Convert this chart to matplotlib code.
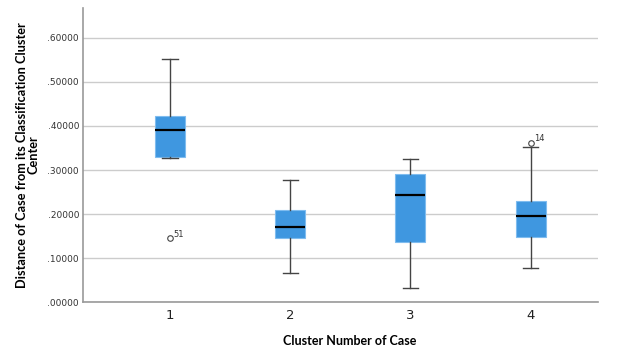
import matplotlib.pyplot as plt
from matplotlib.ticker import FuncFormatter

clusters = ['1', '2', '3', '4']
whis_lo = [0.327, 0.066, 0.032, 0.077]
q1 = [0.330, 0.145, 0.136, 0.148]
median = [0.391, 0.170, 0.243, 0.195]
q3 = [0.423, 0.209, 0.291, 0.230]
whis_hi = [0.552, 0.278, 0.326, 0.352]
outliers = [[0.145], [], [], [0.361]]
outlier_ids = [['51'], [], [], ['14']]

stats = []
for i in range(len(clusters)):
    stats.append({'whislo': whis_lo[i], 'q1': q1[i], 'med': median[i],
                  'q3': q3[i], 'whishi': whis_hi[i], 'fliers': outliers[i]})

fig = plt.figure(figsize=(6.4, 3.61), dpi=100)
ax = fig.add_axes([0.13, 0.163, 0.804, 0.815])

pos = list(range(1, len(clusters) + 1))
ax.bxp(stats, positions=pos, widths=0.25, patch_artist=True,
       boxprops=dict(facecolor='#3f97e0', edgecolor='#7fbcef', linewidth=0.8),
       medianprops=dict(color='black', linewidth=1.6),
       whiskerprops=dict(color='#444444', linewidth=1.0),
       capprops=dict(color='#444444', linewidth=1.0),
       capwidths=0.13,
       flierprops=dict(marker='o', markersize=4, markerfacecolor='white',
                       markeredgecolor='#444444', markeredgewidth=0.8),
       zorder=3)

for i in range(len(clusters)):
    for v, lab in zip(outliers[i], outlier_ids[i]):
        ax.text(pos[i] + 0.03, v + 0.004, lab, fontsize=6, color='#333333')

ax.set_xlim(0.275, 4.56)
ax.set_ylim(0, 0.668)
ax.set_yticks([0, 0.1, 0.2, 0.3, 0.4, 0.5, 0.6])
ax.yaxis.set_major_formatter(FuncFormatter(lambda v, p: ('%.5f' % v)[1:]))
ax.set_xticks(pos)
ax.set_xticklabels(clusters)
ax.yaxis.grid(True, color='#cccccc', linewidth=1.0, zorder=0)
ax.set_axisbelow(True)
ax.tick_params(axis='y', labelsize=6.5, colors='#333333', length=0, pad=3)
ax.tick_params(axis='x', labelsize=9.5, colors='#222222', length=0, pad=5)
for s in ['top', 'right']:
    ax.spines[s].set_visible(False)
for s in ['left', 'bottom']:
    ax.spines[s].set_color('#999999')
    ax.spines[s].set_linewidth(1.2)

ax.set_xlabel('Cluster Number of Case', fontsize=9, fontweight='bold',
              family='Lato', labelpad=9)
ax.xaxis.label.set_x(0.518)
ax.set_ylabel('Distance of Case from its Classification Cluster\nCenter',
              fontsize=9.2, fontweight='bold', family='Lato', labelpad=6,
              linespacing=0.95)

plt.savefig('out.png')
